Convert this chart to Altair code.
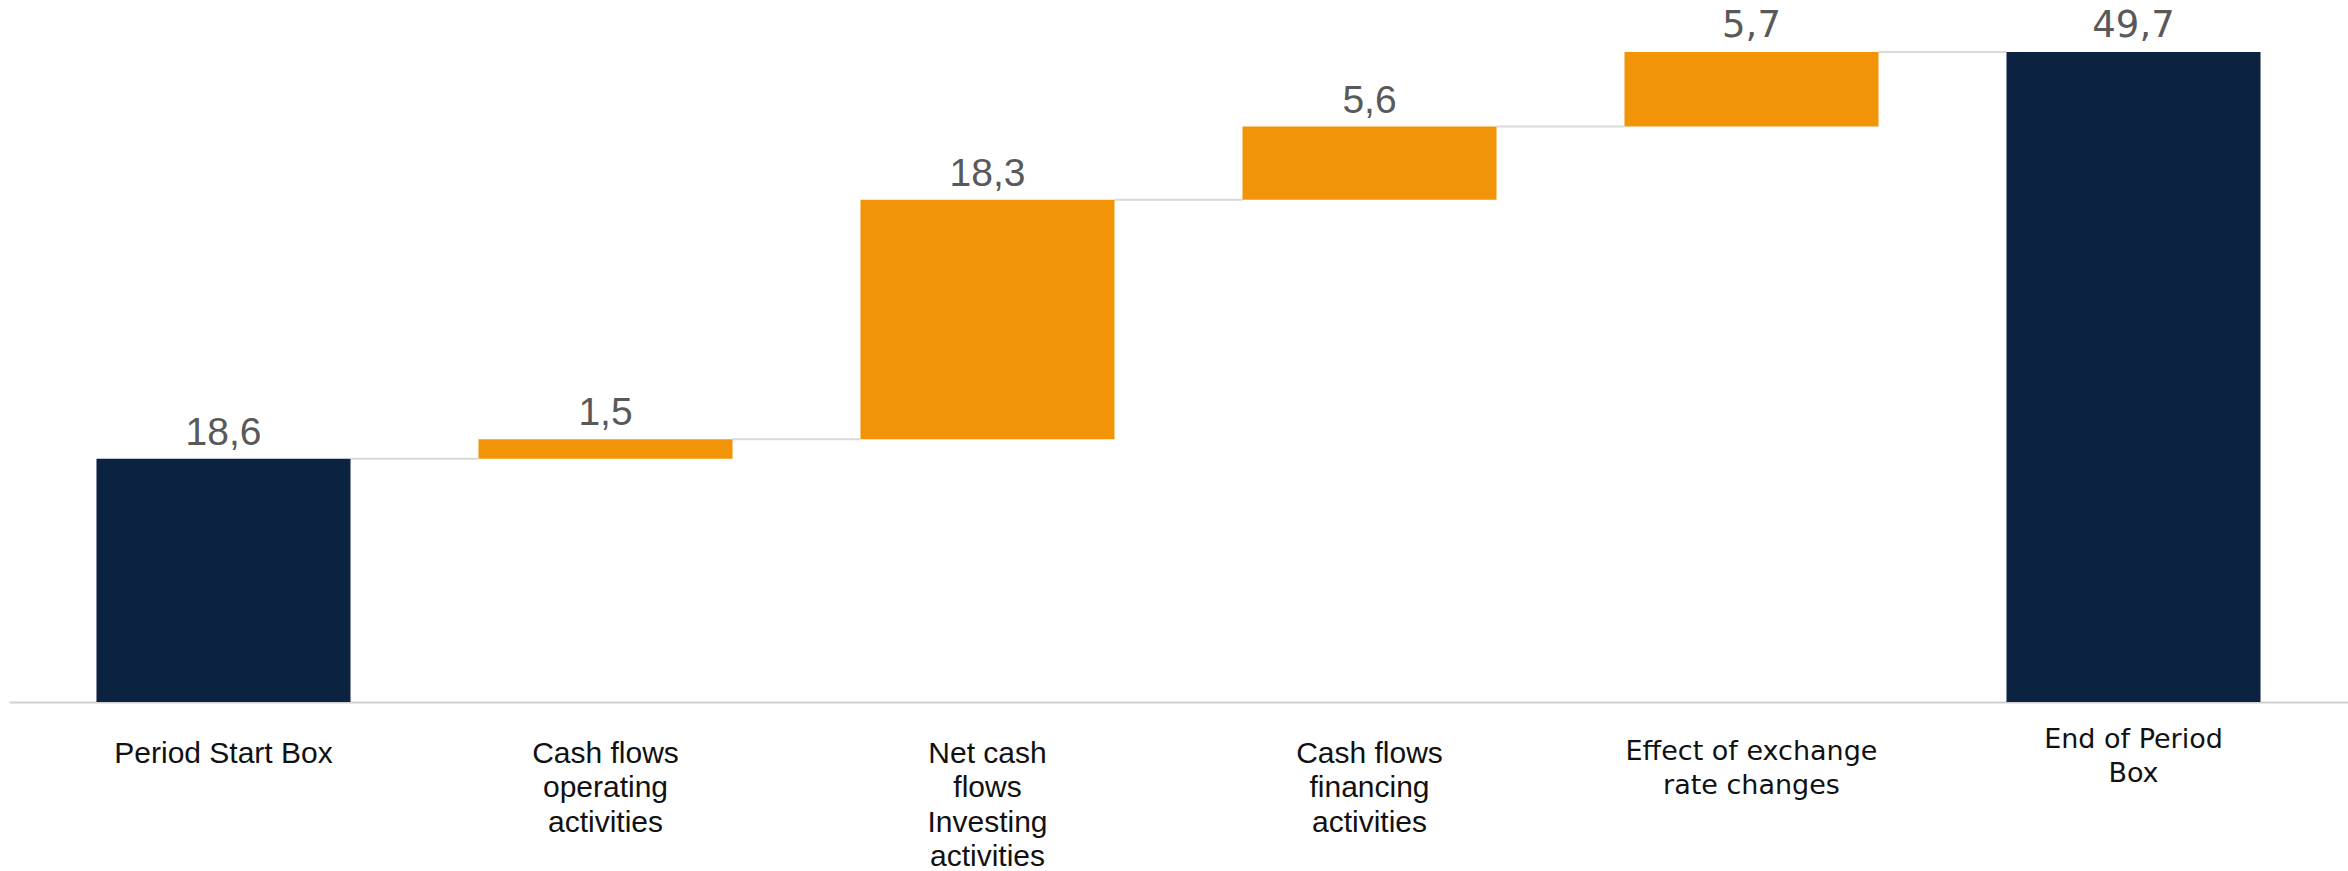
import json
import altair as alt
import pandas as pd

categories = [
    "Period Start Box",
    "Cash flows operating activities",
    "Net cash flows Investing activities",
    "Cash flows financing activities",
    "Effect of exchange rate changes",
    "End of Period Box",
]
values = [18.6, 1.5, 18.3, 5.6, 5.7, 49.7]
kinds = ["total", "delta", "delta", "delta", "delta", "total"]
label_lines = [
    ["Period Start Box"],
    ["Cash flows", "operating", "activities"],
    ["Net cash", "flows", "Investing", "activities"],
    ["Cash flows", "financing", "activities"],
    ["Effect of exchange", "rate changes"],
    ["End of Period", "Box"],
]
wide_font_categories = ["Effect of exchange rate changes", "End of Period Box"]

rows = []
running = 0.0
for c, v, k in zip(categories, values, kinds):
    if k == "total":
        start, end = 0.0, v
    else:
        start, end = running, running + v
    running = end
    rows.append(dict(cat=c, start=start, end=end, top=max(start, end), kind=k,
                     label=f"{v:.1f}".replace(".", ","),
                     wide=c in wide_font_categories))
df = pd.DataFrame(rows)
conn = pd.DataFrame([
    {"cat": rows[i]["cat"], "next": rows[i + 1]["cat"], "level": rows[i]["end"]}
    for i in range(len(rows) - 1)
])

label_map = {c: l for c, l in zip(categories, label_lines)}
label_expr = json.dumps(label_map) + "[datum.label]"
wide_test = "indexof(" + json.dumps(wide_font_categories) + ", datum.value) >= 0"
end_test = "datum.value == 'End of Period Box'"

xscale = alt.Scale(domain=categories, paddingInner=0.335, paddingOuter=0.229)
yscale = alt.Scale(domain=[0, 53.68], nice=False, zero=True)

xaxis = alt.Axis(
    title=None, domainColor="#D0D0D0", domainWidth=2, ticks=False,
    labelAngle=0, labelExpr=label_expr, labelBaseline="top",
    labelLineHeight=34.5, labelColor="#111111", labelLimit=0,
    labelOverlap=False,
    labelFont={"condition": {"test": wide_test, "value": "DejaVu Sans"}, "value": "Liberation Sans"},
    labelFontSize={"condition": {"test": wide_test, "value": 27}, "value": 30},
    labelPadding={"condition": {"test": end_test, "value": 24}, "value": 36},
)
X = alt.X("cat:N", scale=xscale, sort=categories, axis=xaxis)

base = alt.Chart(df)

connectors = alt.Chart(conn).mark_rule(color="#D9D9D9", strokeWidth=2, xOffset=127, x2Offset=-127).encode(
    x=X,
    x2="next:N",
    y=alt.Y("level:Q", scale=yscale, axis=None),
)

bars = base.mark_bar().encode(
    x=X,
    y=alt.Y("start:Q", scale=yscale, axis=None),
    y2="end:Q",
    color=alt.Color("kind:N", scale=alt.Scale(domain=["total", "delta"], range=["#0B2240", "#F29407"]), legend=None),
)

text_narrow = base.transform_filter("!datum.wide").mark_text(
    baseline="bottom", dy=-6, fontSize=39, font="Liberation Sans", color="#595959"
).encode(
    x=X,
    y=alt.Y("top:Q", scale=yscale, axis=None),
    text="label:N",
)

text_wide = base.transform_filter("datum.wide").mark_text(
    baseline="bottom", dy=-7, fontSize=37, font="DejaVu Sans", color="#595959"
).encode(
    x=X,
    y=alt.Y("top:Q", scale=yscale, axis=None),
    text="label:N",
)

chart = alt.layer(connectors, bars, text_narrow, text_wide).properties(
    width=2339, height=702,
    padding={"left": 9, "top": 0, "right": 0, "bottom": 169},
    autosize=alt.AutoSizeParams(type="none"),
    background="white",
).configure_view(stroke=None)

chart.save("out.html", embed_options={"renderer": "svg", "actions": False})
